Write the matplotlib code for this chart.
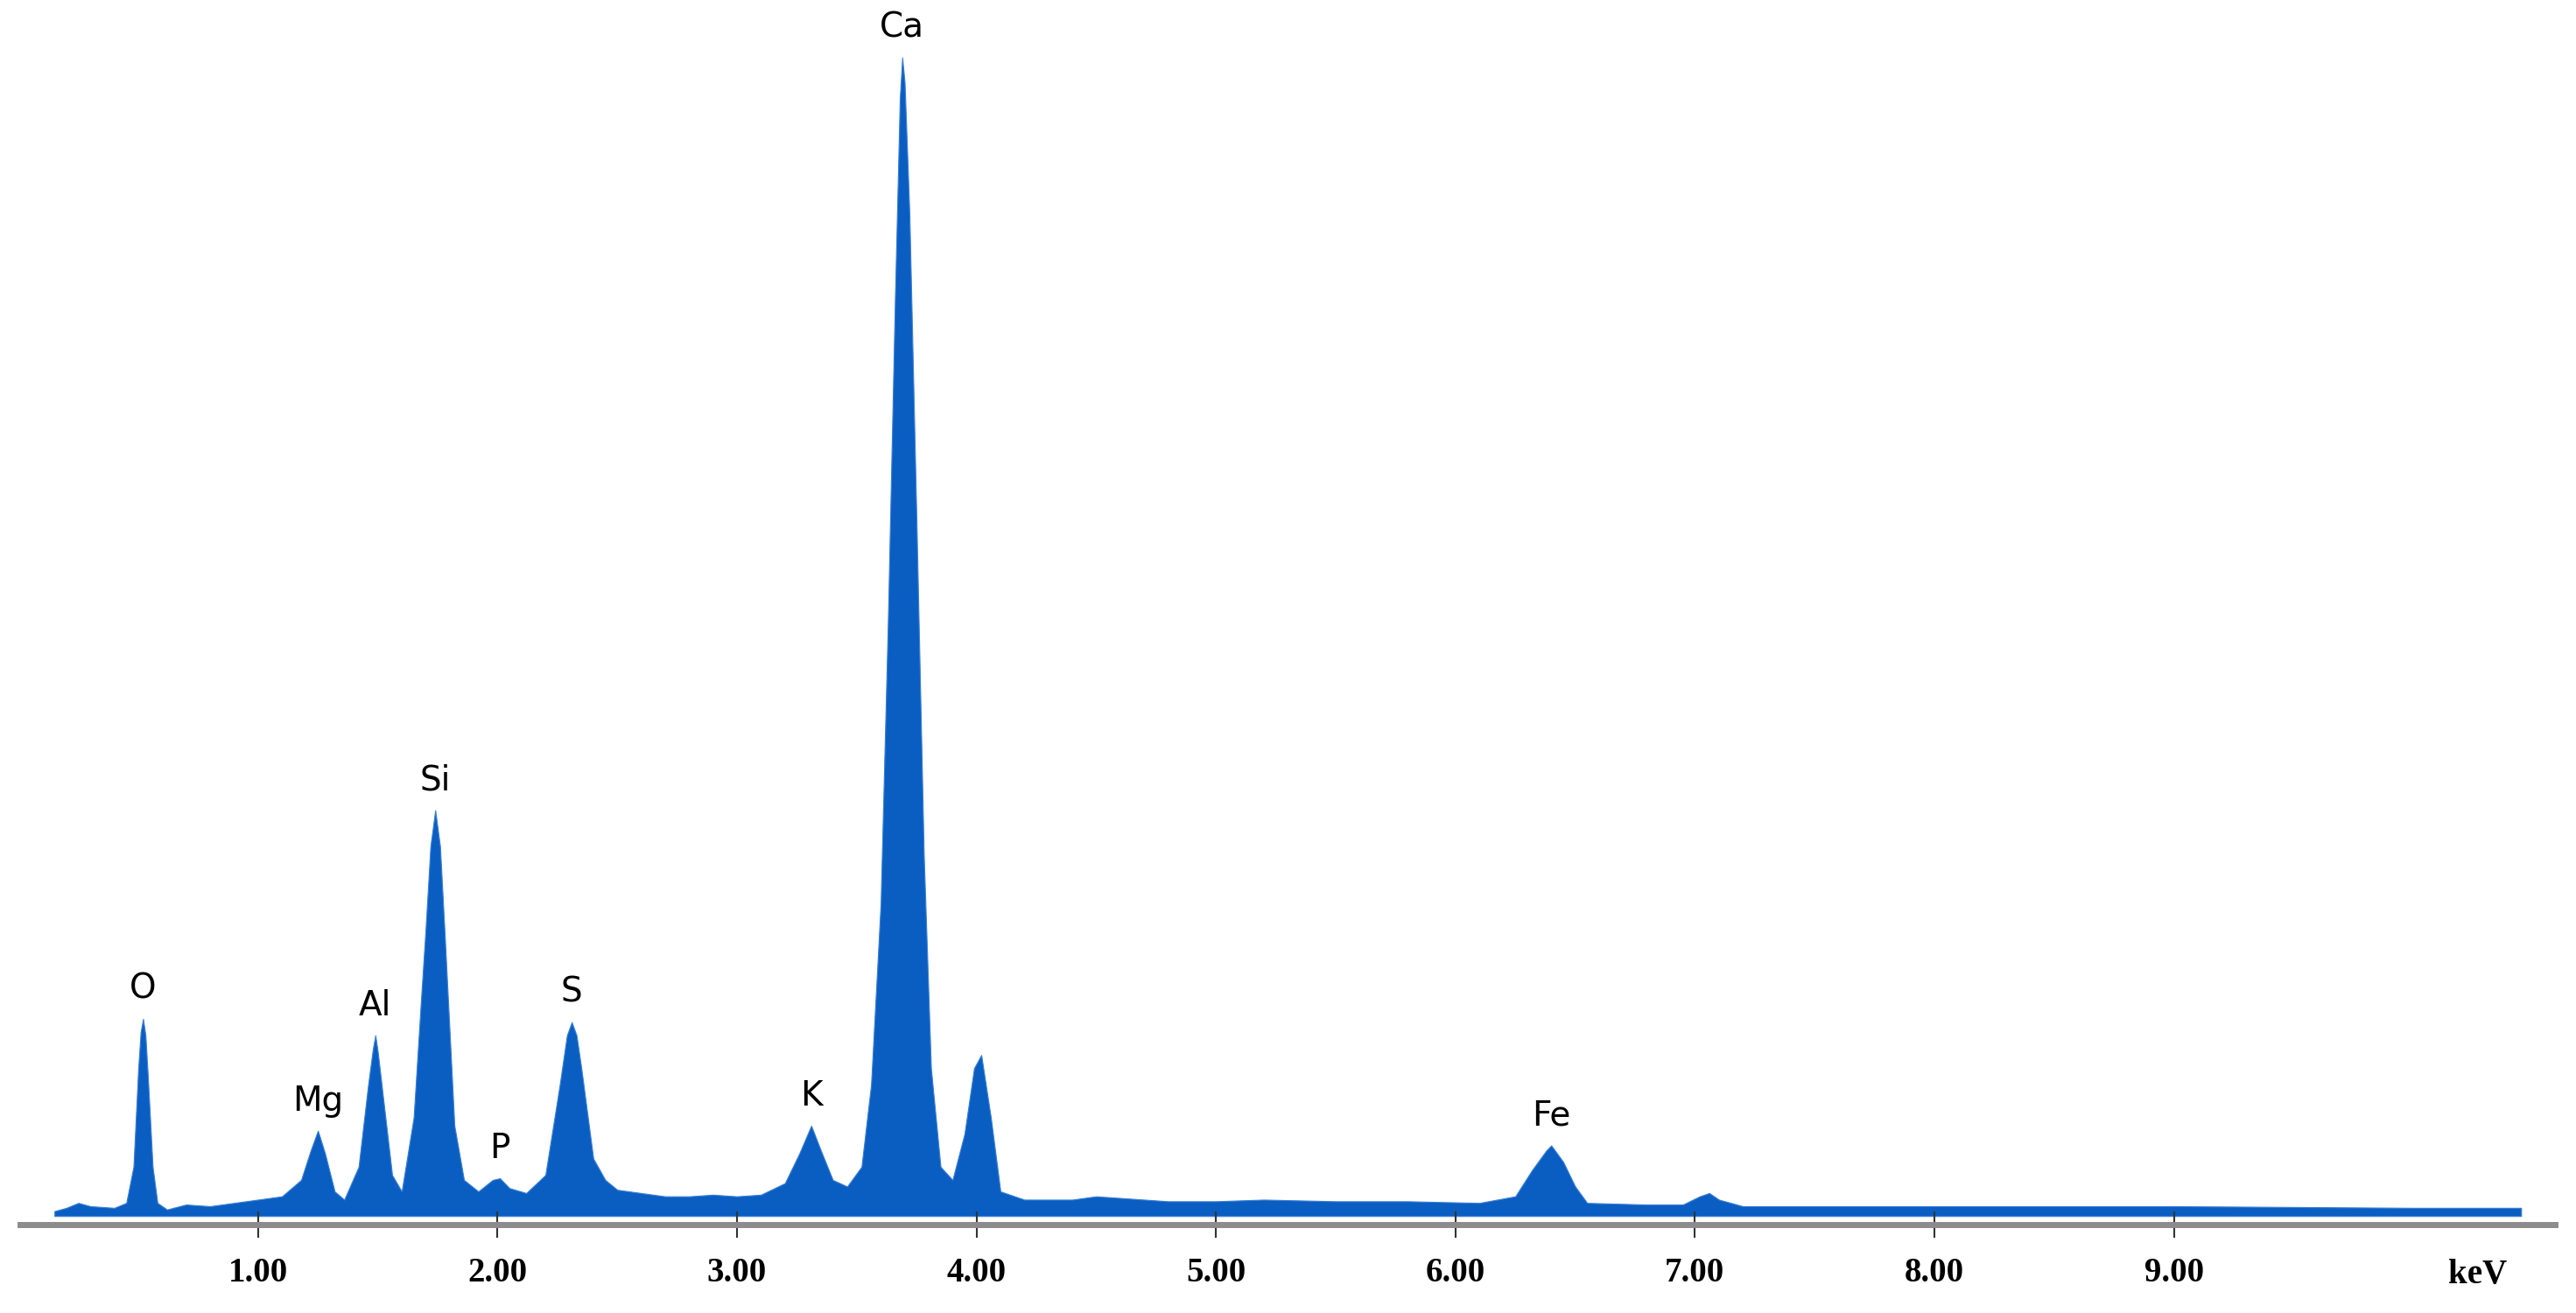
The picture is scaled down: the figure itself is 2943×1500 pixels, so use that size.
import matplotlib
matplotlib.use("Agg")
import matplotlib.pyplot as plt

energy = [0.15,0.20,0.25,0.30,0.40,0.45,0.48,0.50,0.51,0.52,0.53,0.54,0.56,0.58,0.62,0.70,0.80,0.90,1.00,1.10,1.18,1.22,1.25,1.28,1.32,1.36,1.42,1.46,1.48,1.49,1.50,1.52,1.56,1.60,1.65,1.68,1.70,1.72,1.74,1.76,1.78,1.82,1.86,1.92,1.98,2.01,2.05,2.12,2.20,2.26,2.29,2.31,2.33,2.35,2.40,2.45,2.50,2.60,2.70,2.80,2.90,3.00,3.10,3.20,3.26,3.31,3.35,3.40,3.46,3.52,3.56,3.60,3.63,3.66,3.68,3.69,3.70,3.72,3.75,3.78,3.81,3.85,3.90,3.95,3.99,4.02,4.06,4.10,4.20,4.40,4.50,4.80,5.00,5.20,5.50,5.80,6.10,6.25,6.32,6.38,6.40,6.45,6.50,6.55,6.80,6.95,7.02,7.06,7.10,7.20,8.00,9.00,10.00,10.45]
counts = [3,5,8,6,5,8,30,90,112,120,110,85,30,8,4,7,6,8,10,12,22,40,52,38,15,10,30,80,102,110,100,75,25,15,60,130,175,225,247,225,170,55,22,15,22,23,17,14,25,80,110,118,110,90,35,22,16,14,12,12,13,12,13,20,38,55,40,22,18,30,80,190,360,560,680,705,690,610,420,220,90,30,22,50,90,98,60,15,10,10,12,9,9,10,9,9,8,12,28,40,43,33,18,8,7,7,12,14,10,6,6,6,5,5]

elements = ["O","Mg","Al","Si","P","S","K","Ca","Fe"]
elem_energy = [0.52,1.25,1.49,1.74,2.01,2.31,3.31,3.69,6.40]
elem_height = [120,52,110,247,23,118,55,705,43]
tick_values = [1,2,3,4,5,6,7,8,9]
tick_labels = ["1.00","2.00","3.00","4.00","5.00","6.00","7.00","8.00","9.00"]

fig = plt.figure(figsize=(29.43,15), dpi=100)
ax = fig.add_axes([12/1568, 1-745/799, (1555-12)/1568, 735/799])
ax.fill_between(energy, 0, counts, color="#0a5ec2", lw=0.8, edgecolor="#3a7fd5")
ax.set_xlim(0.005, 10.59)
ax.set_ylim(-5, 730)
for s in ["top","left","right"]:
    ax.spines[s].set_visible(False)
ax.spines["bottom"].set_color("#8c8c8c")
ax.spines["bottom"].set_linewidth(5)
ax.set_yticks([])
ax.set_xticks(tick_values)
ax.set_xticklabels(tick_labels, fontfamily="Liberation Serif", fontweight="bold", fontsize=28)
ax.tick_params(axis="x", direction="inout", length=22, width=1.5, color="#333333", pad=16)
fig.text((11.25+10.27*145.75)/1568, 1-776/799, "keV", fontfamily="Liberation Serif",
         fontweight="bold", fontsize=28, ha="center", va="center")
for name, e, h in zip(elements, elem_energy, elem_height):
    ax.text(e, h + 8, name, ha="center", va="bottom", fontsize=28, fontfamily="DejaVu Sans")
fig.savefig("out.png", dpi=100, facecolor="white")
